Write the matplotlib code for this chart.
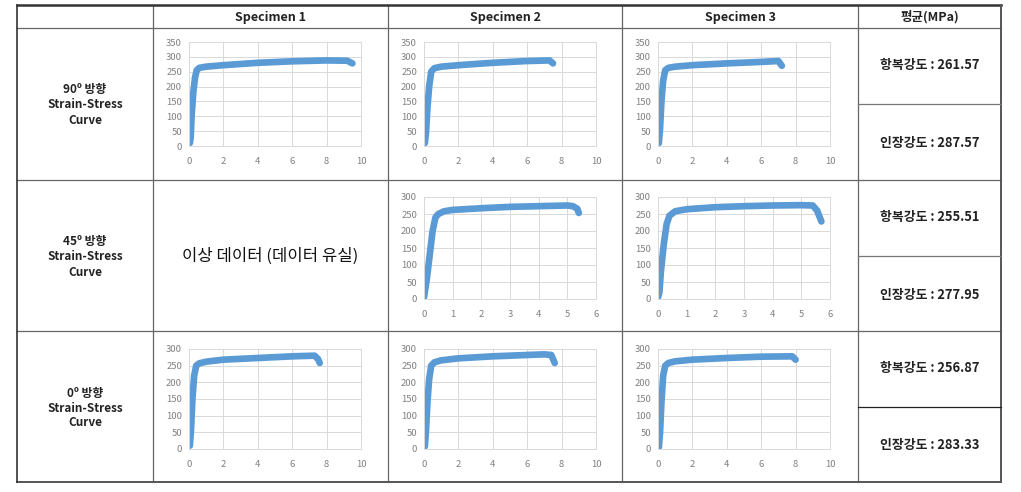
import numpy as np
import matplotlib.pyplot as plt

plt.rcParams['font.family'] = ['Noto Sans CJK KR', 'DejaVu Sans']

W, H = 1021, 492

# column / row labels
col_titles = ["Specimen 1", "Specimen 2", "Specimen 3", "평균(MPa)"]
row_titles = ["90º 방향\nStrain-Stress\nCurve", "45º 방향\nStrain-Stress\nCurve", "0º 방향\nStrain-Stress\nCurve"]
missing_text = "이상 데이터 (데이터 유실)"

yield_avg = [261.57, 255.51, 256.87]
tensile_avg = [287.57, 277.95, 283.33]

# strain (%) / stress (MPa)
s90_1_x = [0.05, 0.1, 0.15, 0.25, 0.35, 0.45, 0.6, 1, 2, 4, 6, 8, 9.2, 9.5]
s90_1_y = [10, 30, 100, 180, 230, 255, 263, 267, 272, 280, 285, 288, 287, 278]
s90_2_x = [0.05, 0.12, 0.2, 0.3, 0.42, 0.6, 1, 2, 4, 6, 7.3, 7.5]
s90_2_y = [10, 50, 130, 200, 250, 262, 267, 272, 280, 286, 288, 278]
s90_3_x = [0.05, 0.12, 0.2, 0.3, 0.42, 0.6, 1, 2, 4, 6, 7.0, 7.2]
s90_3_y = [10, 60, 150, 220, 255, 263, 267, 272, 278, 283, 286, 270]

s45_2_x = [0, 0.1, 0.2, 0.3, 0.4, 0.5, 0.7, 1, 2, 3, 4, 5, 5.2, 5.35, 5.4]
s45_2_y = [5, 60, 130, 200, 240, 250, 258, 262, 267, 271, 273, 275, 273, 265, 253]
s45_3_x = [0, 0.05, 0.1, 0.2, 0.3, 0.4, 0.6, 1, 2, 3, 4, 5, 5.4, 5.55, 5.7]
s45_3_y = [5, 20, 80, 160, 220, 245, 258, 264, 270, 273, 275, 276, 275, 260, 228]

s0_1_x = [0.05, 0.12, 0.2, 0.3, 0.42, 0.6, 1, 2, 4, 6, 7.3, 7.5, 7.6]
s0_1_y = [10, 60, 150, 220, 250, 257, 262, 268, 273, 278, 280, 270, 258]
s0_2_x = [0.05, 0.12, 0.2, 0.3, 0.42, 0.6, 1, 2, 4, 6, 7.0, 7.4, 7.6]
s0_2_y = [8, 60, 140, 210, 250, 260, 266, 272, 278, 282, 284, 282, 258]
s0_3_x = [0.05, 0.12, 0.2, 0.3, 0.42, 0.6, 1, 2, 4, 6, 7.8, 8.0]
s0_3_y = [5, 50, 140, 220, 250, 258, 263, 268, 273, 277, 278, 268]

# grid geometry (pixels)
col_x = [17, 153, 388, 622, 858, 1001]
row_y = [5, 28, 180, 331, 482]
split_y = [104, 256, 407]

fig = plt.figure(figsize=(W / 100, H / 100), dpi=100)


def fx(x):
    return x / W


def fy(y):
    return 1 - y / H


def hline(y, x0, x1, c="#666666", lw=0.9):
    fig.add_artist(plt.Line2D([fx(x0), fx(x1)], [fy(y), fy(y)], color=c, lw=lw))


def vline(x, y0, y1, c="#666666", lw=0.9):
    fig.add_artist(plt.Line2D([fx(x), fx(x)], [fy(y0), fy(y1)], color=c, lw=lw))


# table lines
for y in row_y[1:-1]:
    hline(y, col_x[0], col_x[-1])
for x in col_x[1:-1]:
    vline(x, row_y[0], row_y[-1])
hline(row_y[0], col_x[0], col_x[-1], c="#333333", lw=1.8)
hline(row_y[-1], col_x[0], col_x[-1], c="#555555", lw=1.4)
vline(col_x[0], row_y[0], row_y[-1], c="#333333", lw=1.2)
vline(col_x[-1], row_y[0], row_y[-1], c="#555555", lw=1.4)
for i, y in enumerate(split_y):
    hline(y, col_x[4], col_x[5], c="#777777" if i < 2 else "#222222", lw=0.9)

# header
for i, t in enumerate(col_titles):
    fig.text(fx((col_x[i + 1] + col_x[i + 2]) / 2), fy(17), t, ha="center", va="center",
             fontsize=9, fontweight="bold", color="#222222")

# row titles and averages
row_mid = [105, 257, 408]
for r in range(3):
    fig.text(fx((col_x[0] + col_x[1]) / 2), fy(row_mid[r]), row_titles[r], ha="center", va="center",
             fontsize=8.5, fontweight="bold", color="#222222", linespacing=1.2)
    top, mid, bot = row_y[r + 1], split_y[r], row_y[r + 2]
    cx = fx((col_x[4] + col_x[5]) / 2)
    fig.text(cx, fy((top + mid) / 2 - 1), f"항복강도 : {yield_avg[r]:.2f}", ha="center", va="center",
             fontsize=9.3, fontweight="bold", color="#222222")
    fig.text(cx, fy((mid + bot) / 2 + 1), f"인장강도 : {tensile_avg[r]:.2f}", ha="center", va="center",
             fontsize=9.3, fontweight="bold", color="#222222")

fig.text(fx((col_x[1] + col_x[2]) / 2), fy(256), missing_text, ha="center", va="center",
         fontsize=12, fontweight="medium", color="#111111")

curves = [
    [(0, s90_1_x, s90_1_y), (1, s90_2_x, s90_2_y), (2, s90_3_x, s90_3_y)],
    [(1, s45_2_x, s45_2_y), (2, s45_3_x, s45_3_y)],
    [(0, s0_1_x, s0_1_y), (1, s0_2_x, s0_2_y), (2, s0_3_x, s0_3_y)],
]
plot_top = [42, 197, 349]
plot_bot = [146, 299, 449]
xmax = [10, 6, 10]
ymax = [350, 300, 300]

for r in range(3):
    for c, xs, ys in curves[r]:
        left = col_x[c + 1] + 36
        ax = fig.add_axes([fx(left), fy(plot_bot[r]), 172 / W, (plot_bot[r] - plot_top[r]) / H])
        ax.plot(xs, ys, color="#5B9BD5", lw=4.8, solid_capstyle="round", solid_joinstyle="round")
        ax.set_xlim(0, xmax[r])
        ax.set_ylim(0, ymax[r])
        ax.set_xticks(np.arange(0, xmax[r] + 1, 2 if xmax[r] == 10 else 1))
        ax.set_yticks(np.arange(0, ymax[r] + 1, 50))
        ax.grid(True, color="#d9d9d9", lw=0.7)
        ax.set_axisbelow(True)
        for s in ax.spines.values():
            s.set_color("#d9d9d9")
            s.set_linewidth(0.7)
        ax.tick_params(length=0, labelsize=6.8, labelcolor="#808080")
        ax.tick_params(axis="x", pad=8)
        ax.tick_params(axis="y", pad=5)

fig.savefig("out.png", dpi=100)
